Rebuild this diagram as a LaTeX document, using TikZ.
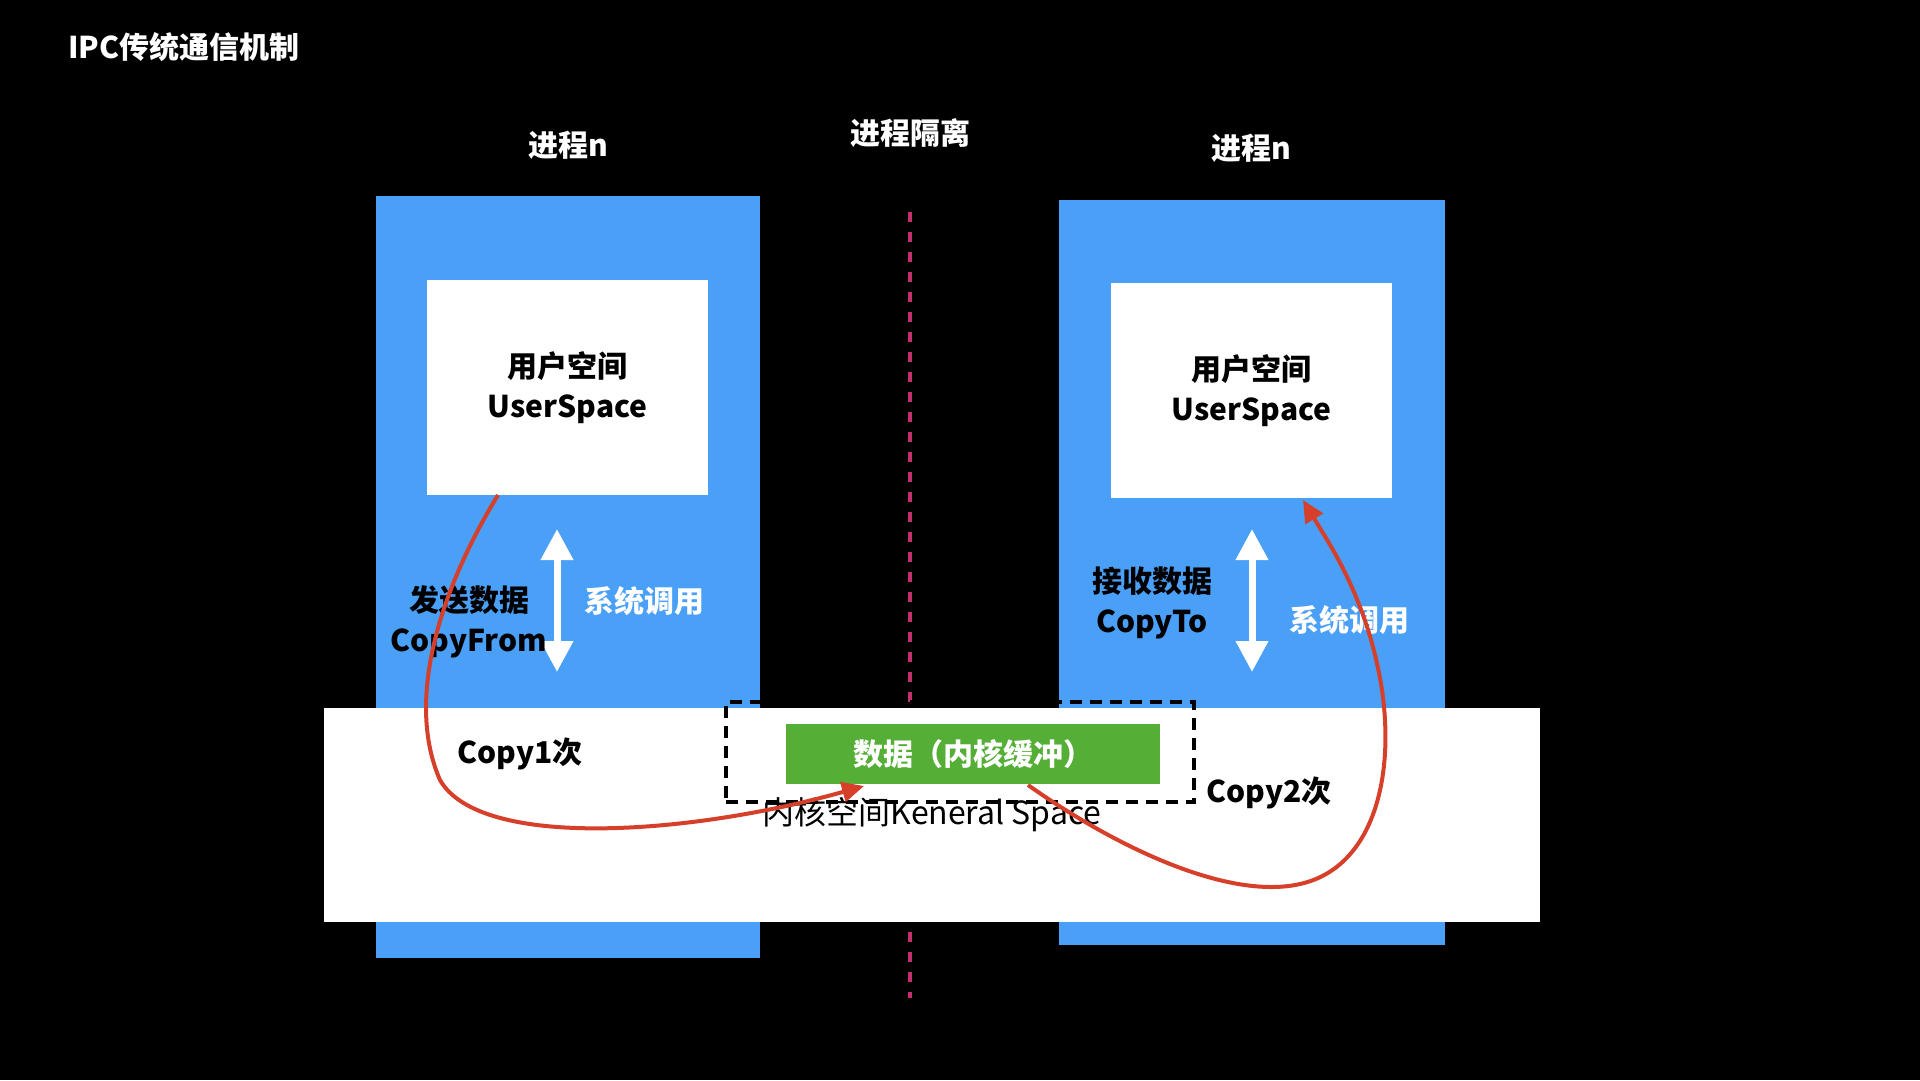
\documentclass[tikz,border=0pt]{standalone}
\usepackage{fontspec}
\setmainfont{Noto Sans CJK SC}
\usetikzlibrary{arrows.meta}
\definecolor{procblue}{HTML}{4A9FF7}
\definecolor{bufgreen}{HTML}{55AF36}
\definecolor{copyred}{HTML}{D6402B}
\definecolor{isopink}{HTML}{C2306E}
\tikzset{
  txt/.style={font=\fontsize{30pt}{40pt}\selectfont\bfseries, inner sep=0pt, align=center},
  wtxt/.style={txt, text=white},
  btxt/.style={txt, text=black},
  procbox/.style={fill=procblue, draw=none, inner sep=0pt},
  whitebox/.style={fill=white, draw=none, inner sep=0pt},
  syscall/.style={white, line width=7pt, {Triangle[width=31pt,length=31pt]}-{Triangle[width=31pt,length=31pt]}},
  copyline/.style={copyred, line width=4pt, -{Triangle[width=20pt,length=22pt]}},
  isoline/.style={isopink, line width=4pt, dash pattern=on 10pt off 10pt},
  dashbox/.style={draw=black, line width=4pt, dash pattern=on 12pt off 8pt, inner sep=0pt}
}
\begin{document}
\begin{tikzpicture}[x=1pt,y=-1pt]
\fill[black] (0,0) rectangle (1920,1080);
\useasboundingbox (0,0) rectangle (1920,1080);

% isolation line
\coordinate (isoTop) at (910,212);
\coordinate (isoBot) at (910,998);
\draw[isoline] (isoTop) -- (isoBot);

% title and headers
\node[wtxt, font=\fontsize{30pt}{36pt}\selectfont\bfseries] (title) at (184,47) {IPC传统通信机制};
\node[wtxt] (lhead) at (568,145) {进程n};
\node[wtxt] (rhead) at (1251,148) {进程n};
\node[wtxt] (isohead) at (910,133) {进程隔离};

% process boxes
\node[procbox, minimum width=384pt, minimum height=762pt] (lp) at (568,577) {};
\node[procbox, minimum width=386pt, minimum height=745pt] (rp) at (1252,572.5) {};

% kernel space
\node[whitebox, minimum width=1216pt, minimum height=214pt, btxt, font=\fontsize{32pt}{36pt}\selectfont] (kern) at (932,815) {内核空间Keneral Space};

% user spaces
\node[whitebox, minimum width=281pt, minimum height=215pt, btxt] (lu) at (567.5,387.5) {用户空间\\UserSpace};
\node[whitebox, minimum width=281pt, minimum height=215pt, btxt] (ru) at (1251.5,390.5) {用户空间\\UserSpace};

% dashed buffer frame and buffer
\node[dashbox, minimum width=468pt, minimum height=100pt] (frame) at (960,752) {};
\node[fill=bufgreen, minimum width=374pt, minimum height=60pt, wtxt] (buf) at (973,754) {数据（内核缓冲）};

% system call arrows
\coordinate (lsTop) at (557,529);
\coordinate (lsBot) at (557,672);
\draw[syscall] (lsTop) -- (lsBot);
\coordinate (rsTop) at (1252,529);
\coordinate (rsBot) at (1252,672);
\draw[syscall] (rsTop) -- (rsBot);

% labels
\node[btxt] (send) at (469,622) {发送数据\\CopyFrom};
\node[wtxt] (lsys) at (644,601) {系统调用};
\node[btxt] (recv) at (1152,603) {接收数据\\CopyTo};
\node[wtxt] (rsys) at (1349,620) {系统调用};
\node[btxt] (c1) at (520,754) {Copy1次};
\node[btxt] (c2) at (1269,793) {Copy2次};

% copy curves
\coordinate (c1s) at (498,495);
\coordinate (c1m) at (440,780);
\coordinate (c1e) at (864,786);
\draw[copyline] (c1s) .. controls (440,590) and (405,700) .. (c1m)
  .. controls (480,850) and (690,835) .. (c1e);
\coordinate (c2s) at (1028,785);
\coordinate (c2a) at (1300,884);
\coordinate (c2b) at (1382,690);
\coordinate (c2e) at (1303,500);
\draw[copyline] (c2s) .. controls (1120,850) and (1230,900) .. (c2a)
  .. controls (1372,868) and (1395,780) .. (c2b)
  .. controls (1368,600) and (1330,545) .. (c2e);
\end{tikzpicture}
\end{document}
